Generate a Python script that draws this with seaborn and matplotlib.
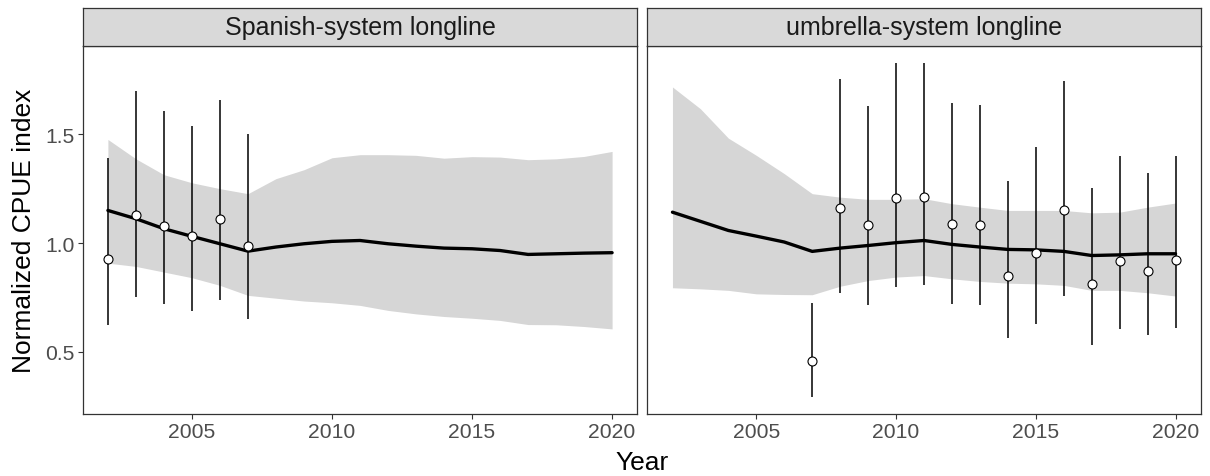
import matplotlib
matplotlib.use("Agg")
import matplotlib.pyplot as plt
import seaborn as sns
import pandas as pd
import numpy as np

# ---------------- data ----------------
years = list(range(2002, 2021))

panels = ["Spanish-system longline", "umbrella-system longline"]

sp_pred = [1.150, 1.112, 1.066, 1.031, 0.997, 0.963, 0.982, 0.997, 1.008, 1.012,
           0.997, 0.986, 0.977, 0.974, 0.966, 0.948, 0.951, 0.954, 0.956]
sp_upper = [1.476, 1.387, 1.314, 1.277, 1.250, 1.227, 1.296, 1.337, 1.392, 1.406,
            1.406, 1.403, 1.390, 1.397, 1.395, 1.383, 1.387, 1.398, 1.421]
sp_lower = [0.908, 0.893, 0.867, 0.841, 0.806, 0.760, 0.747, 0.734, 0.726, 0.714,
            0.691, 0.675, 0.663, 0.655, 0.645, 0.626, 0.625, 0.617, 0.606]
sp_obs_years = [2002, 2003, 2004, 2005, 2006, 2007]
sp_obs = [0.928, 1.130, 1.077, 1.031, 1.110, 0.989]
sp_obs_lo = [0.622, 0.752, 0.721, 0.689, 0.741, 0.652]
sp_obs_hi = [1.392, 1.698, 1.608, 1.539, 1.658, 1.501]

um_pred = [1.142, 1.100, 1.058, 1.032, 1.005, 0.962, 0.977, 0.989, 1.002, 1.012,
           0.994, 0.982, 0.971, 0.969, 0.962, 0.943, 0.946, 0.951, 0.951]
um_upper = [1.717, 1.617, 1.482, 1.403, 1.319, 1.227, 1.211, 1.201, 1.201, 1.204,
            1.181, 1.165, 1.150, 1.150, 1.150, 1.139, 1.142, 1.165, 1.184]
um_lower = [0.795, 0.790, 0.783, 0.767, 0.764, 0.763, 0.802, 0.828, 0.844, 0.851,
            0.836, 0.824, 0.816, 0.813, 0.806, 0.783, 0.783, 0.772, 0.757]
um_obs_years = list(range(2007, 2021))
um_obs = [0.458, 1.161, 1.081, 1.208, 1.214, 1.089, 1.081, 0.851, 0.954, 1.150,
          0.813, 0.920, 0.874, 0.923]
um_obs_lo = [0.292, 0.770, 0.714, 0.798, 0.806, 0.721, 0.714, 0.564, 0.629, 0.757,
             0.530, 0.606, 0.576, 0.609]
um_obs_hi = [0.724, 1.755, 1.629, 1.827, 1.827, 1.643, 1.632, 1.285, 1.441, 1.744,
             1.254, 1.400, 1.322, 1.400]

x_ticks = [2005, 2010, 2015, 2020]
y_ticks = [0.5, 1.0, 1.5]
y_tick_labels = ["0.5", "1.0", "1.5"]

pred = pd.concat([
    pd.DataFrame({"panel": panels[0], "Year": years, "pred": sp_pred,
                  "lower": sp_lower, "upper": sp_upper}),
    pd.DataFrame({"panel": panels[1], "Year": years, "pred": um_pred,
                  "lower": um_lower, "upper": um_upper}),
])
obs = pd.concat([
    pd.DataFrame({"panel": panels[0], "Year": sp_obs_years, "obs": sp_obs,
                  "lo": sp_obs_lo, "hi": sp_obs_hi}),
    pd.DataFrame({"panel": panels[1], "Year": um_obs_years, "obs": um_obs,
                  "lo": um_obs_lo, "hi": um_obs_hi}),
])

# ---------------- style ----------------
sns.set_theme(style="white")
plt.rcParams["font.family"] = ["Liberation Sans", "DejaVu Sans"]

W, H = 1210, 477
fig = plt.figure(figsize=(W / 100, H / 100), dpi=100)

ax_top, ax_bot = 47.3, 415.0
lefts = [82.7, 647.3]
rights = [637.3, 1200.7]
strip_top = 9.0

# limits with ggplot-like 5% expansion
ymin = min(obs["lo"].min(), pred["lower"].min())
ymax = max(obs["hi"].max(), pred["upper"].max())
yr = ymax - ymin
ylim = (ymin - 0.05 * yr, ymax + 0.05 * yr)
xr = max(years) - min(years)
xlim = (min(years) - 0.05 * xr, max(years) + 0.05 * xr)

border = "#333333"
axes = []
for i, panel in enumerate(panels):
    l = lefts[i] / W
    w = (rights[i] - lefts[i]) / W
    b = 1 - ax_bot / H
    h = (ax_bot - ax_top) / H
    ax = fig.add_axes([l, b, w, h])
    axes.append(ax)
    p = pred[pred["panel"] == panel]
    o = obs[obs["panel"] == panel]

    ax.fill_between(p["Year"], p["lower"], p["upper"], color="#D6D6D6",
                    linewidth=0, zorder=1)
    sns.lineplot(data=p, x="Year", y="pred", ax=ax, color="black",
                 linewidth=2.4, zorder=3, legend=False)
    ax.vlines(o["Year"], o["lo"], o["hi"], color="black", linewidth=1.1, zorder=4)
    sns.scatterplot(data=o, x="Year", y="obs", ax=ax, s=42, color="white",
                    edgecolor="black", linewidth=0.8, zorder=5, legend=False)

    ax.set_xlim(*xlim)
    ax.set_ylim(*ylim)
    ax.set_xticks(x_ticks)
    ax.set_xticklabels([str(t) for t in x_ticks])
    ax.set_yticks(y_ticks)
    ax.set_yticklabels(y_tick_labels if i == 0 else [])
    ax.tick_params(axis="both", which="major", direction="out", length=3.5,
                   width=0.8, color=border, labelsize=15.2, labelcolor="#4D4D4D",
                   pad=2.2, bottom=True, left=True)
    if i == 1:
        ax.tick_params(axis="y", left=False)
    for s in ax.spines.values():
        s.set_color(border)
        s.set_linewidth(0.9)
    ax.set_xlabel("")
    ax.set_ylabel("")
    ax.grid(False)

    # strip
    sax = fig.add_axes([l, 1 - ax_top / H, w, (ax_top - strip_top) / H])
    sax.set_facecolor("#D9D9D9")
    sax.set_xticks([])
    sax.set_yticks([])
    for s in sax.spines.values():
        s.set_color(border)
        s.set_linewidth(0.9)
    sax.text(0.5, 0.5, panel, ha="center", va="center", fontsize=18,
             color="#1A1A1A", transform=sax.transAxes)

axes[0].set_ylabel("Normalized CPUE index", fontsize=19, color="black")
axes[0].yaxis.label.set_verticalalignment("center")
axes[0].yaxis.set_label_coords((23.5 - lefts[0]) / (rights[0] - lefts[0]), 0.5)

fig.text((lefts[0] + rights[1]) / 2 / W, 1 - 463 / H, "Year", ha="center",
         va="center", fontsize=19, color="black")

fig.savefig("out.png", dpi=100, facecolor="white")
